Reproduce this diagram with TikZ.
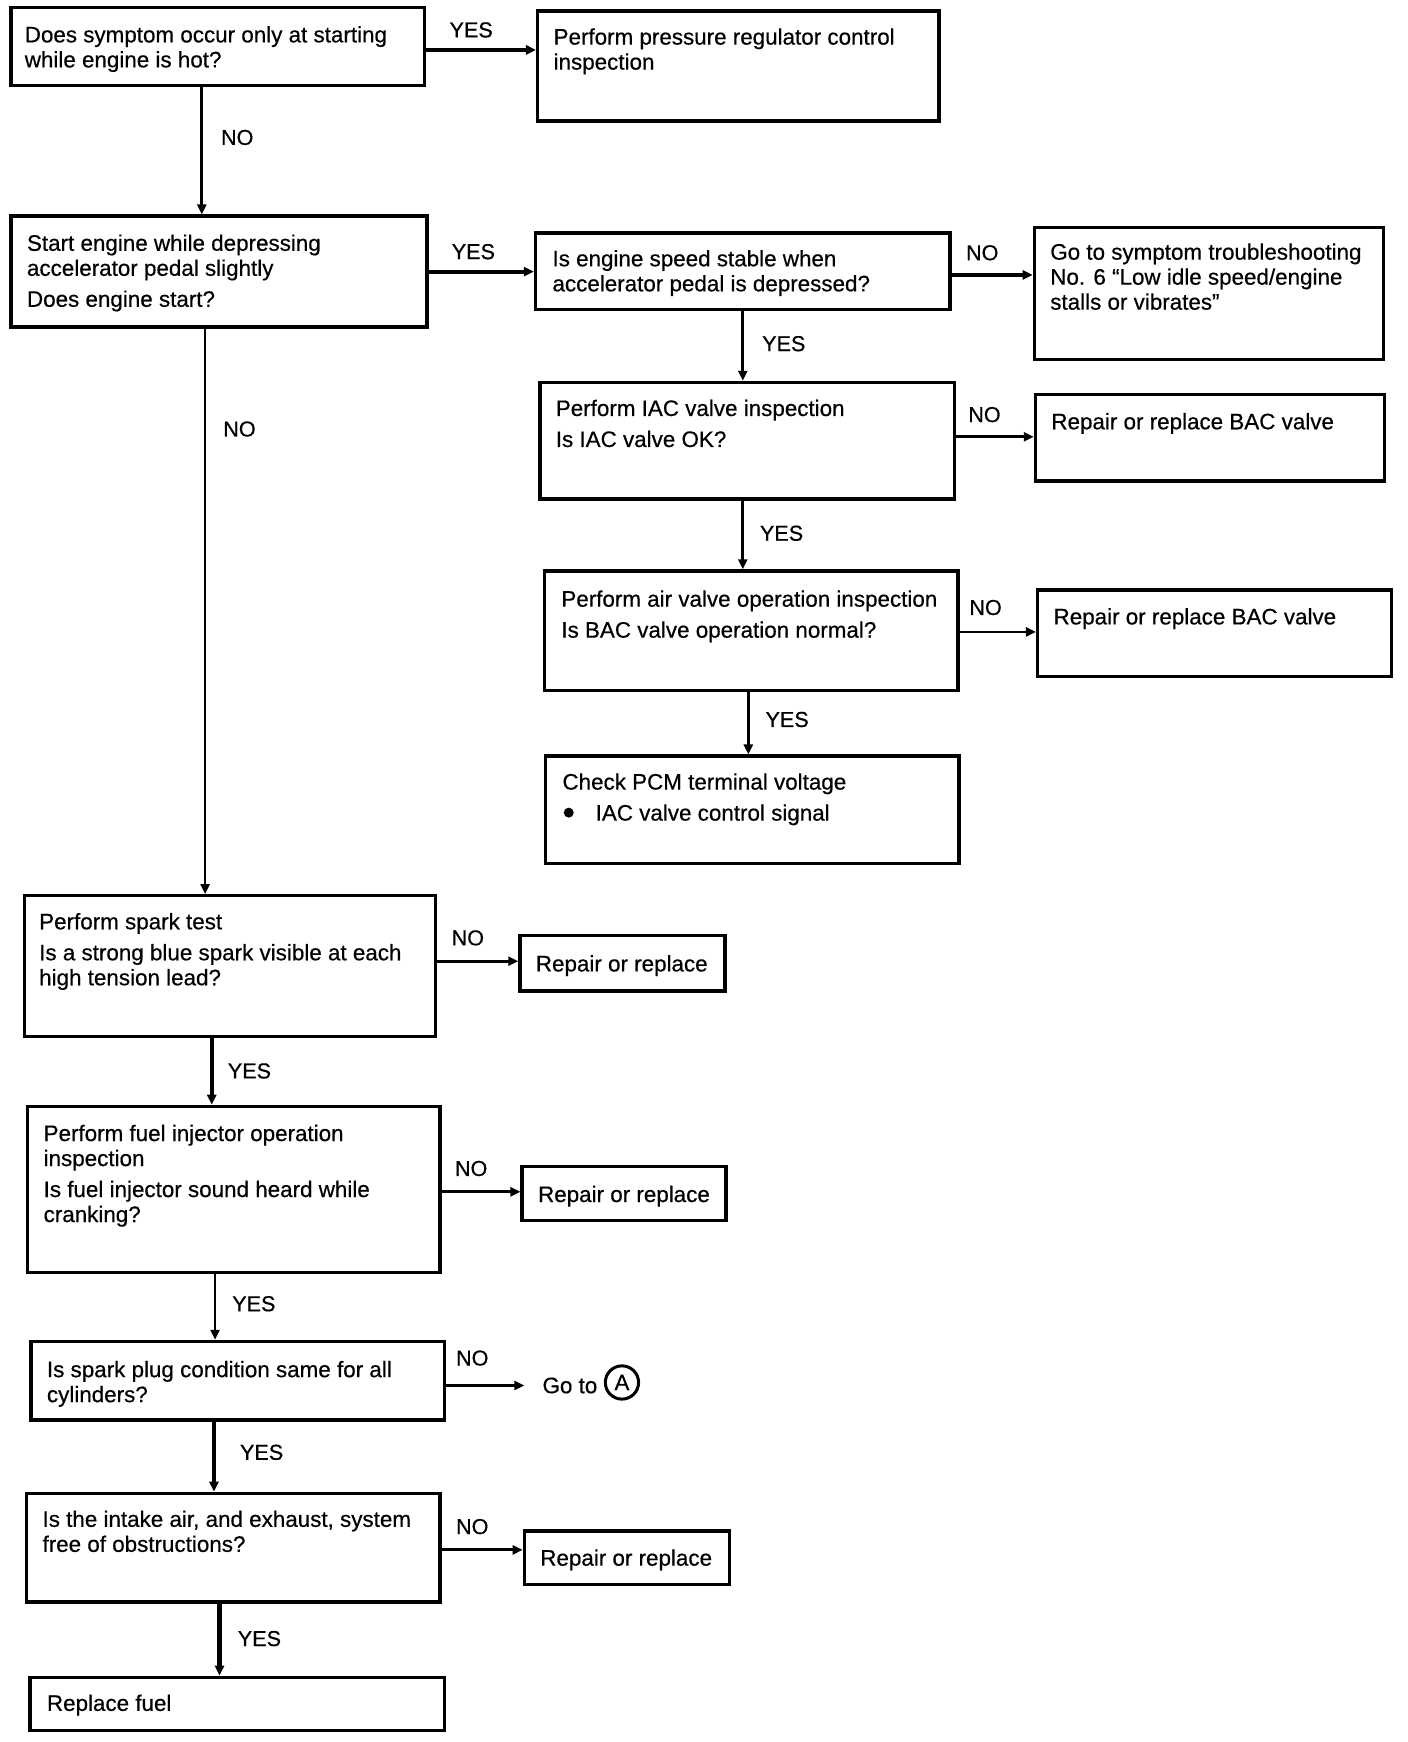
\documentclass[tikz,border=0pt]{standalone}
\usepackage{fontspec}
\setmainfont{Liberation Sans}[FakeBold=0.5]
\usetikzlibrary{arrows.meta,fit,calc}
\begin{document}
\begin{tikzpicture}[x=0.55435pt,y=-0.55435pt,
  box/.style={draw,line width=1.7pt,inner sep=0pt},
  txt/.style={anchor=north west,inner sep=0pt,align=left,yshift=-1.5pt,font=\fontsize{11.2}{12.5}\selectfont},
  lbl/.style={inner sep=0pt,font=\fontsize{10.8}{12}\selectfont},
  arr/.style={line width=1.4pt,-{Triangle[length=5pt,width=4.5pt]}},
  thickarr/.style={arr,line width=2.1pt}]
\useasboundingbox (0,0) rectangle (1270,1571.3);
% boxes
\node[box,fit={(10,7) (383,77)}] (b1) {};
\node[box,fit={(485,10) (847,109)}] (b2) {};
\node[box,fit={(10,195) (385,295)}] (b3) {};
\node[box,fit={(483,210) (857,279)}] (b4) {};
\node[box,fit={(933,205) (1248,324)}] (b5) {};
\node[box,fit={(487,345) (861,450)}] (b6) {};
\node[box,fit={(934,356) (1249,434)}] (b7) {};
\node[box,fit={(491,515) (864,623)}] (b8) {};
\node[box,fit={(936,532) (1255,610)}] (b9) {};
\node[box,fit={(492,682) (865,779)}] (b10) {};
\node[box,fit={(22,808) (393,935)}] (b11) {};
\node[box,fit={(469,844) (654,894)}] (b12) {};
\node[box,fit={(25,998) (397,1148)}] (b13) {};
\node[box,fit={(471,1052) (655,1101)}] (b14) {};
\node[box,fit={(28,1210) (401,1281)}] (b15) {};
\node[box,fit={(24,1347) (397,1445)}] (b16) {};
\node[box,fit={(473,1381) (658,1429)}] (b17) {};
\node[box,fit={(27,1513) (401,1561)}] (b18) {};
% texts
\node[txt] (t1) at (22,20.5) {Does symptom occur only at starting\\while engine is hot?};
\node[txt] (t2) at (499,22.5) {Perform pressure regulator control\\inspection};
\node[txt] (t3) at (24,208.5) {Start engine while depressing\\accelerator pedal slightly\\[3pt]Does engine start?};
\node[txt] (t4) at (498,222.5) {Is engine speed stable when\\accelerator pedal is depressed?};
\node[txt] (t5) at (947,216.5) {Go to symptom troubleshooting\\No. 6 ``Low idle speed/engine\\stalls or vibrates''};
\node[txt] (t6) at (501,357.5) {Perform IAC valve inspection\\[3pt]Is IAC valve OK?};
\node[txt] (t7) at (948,369.5) {Repair or replace BAC valve};
\node[txt] (t8) at (506,529.5) {Perform air valve operation inspection\\[3pt]Is BAC valve operation normal?};
\node[txt] (t9) at (950,545.5) {Repair or replace BAC valve};
\node[txt] (t10) at (507,694.5) {Check PCM terminal voltage\\[3pt]\hspace{16.6pt}IAC valve control signal};
\fill (513,733) circle (4.5);
\node[txt] (t11) at (35,820.5) {Perform spark test\\[3pt]Is a strong blue spark visible at each\\high tension lead?};
\node[txt] (t12) at (483,858.5) {Repair or replace};
\node[txt] (t13) at (39,1011.5) {Perform fuel injector operation\\inspection\\[3pt]Is fuel injector sound heard while\\cranking?};
\node[txt] (t14) at (485,1066.5) {Repair or replace};
\node[txt] (t15) at (42,1224.5) {Is spark plug condition same for all\\cylinders?};
\node[txt] (t16) at (38,1359.5) {Is the intake air, and exhaust, system\\free of obstructions?};
\node[txt] (t17) at (487,1394.5) {Repair or replace};
\node[txt] (t18) at (42,1525.5) {Replace fuel};
\node[txt,anchor=west,yshift=0pt] (goto) at (489,1247) {Go to};
\node[draw,circle,line width=1.5pt,minimum size=30pt*0.55435,inner sep=0pt,font=\fontsize{11.2}{12.5}\selectfont] (A) at (561,1247) {A};
% connectors
\draw[thickarr] (b1.east |- 0,45) -- (b2.west |- 0,45);
\node[lbl] at (425,27) {YES};
\draw[arr] (b1.south -| 182,0) -- (b3.north -| 182,0);
\node[lbl] at (214,124) {NO};
\draw[thickarr] (b3.east |- 0,245) -- (b4.west |- 0,245);
\node[lbl] at (427,227) {YES};
\draw[thickarr] (b4.east |- 0,248) -- (b5.west |- 0,248);
\node[lbl] at (886,228) {NO};
\draw[arr] (b4.south -| 670,0) -- (b6.north -| 670,0);
\node[lbl] at (707,310) {YES};
\draw[arr] (b6.east |- 0,394) -- (b7.west |- 0,394);
\node[lbl] at (888,374) {NO};
\draw[arr] (b6.south -| 670,0) -- (b8.north -| 670,0);
\node[lbl] at (705,481) {YES};
\draw[arr] (b8.east |- 0,570) -- (b9.west |- 0,570);
\node[lbl] at (889,548) {NO};
\draw[arr] (b8.south -| 675,0) -- (b10.north -| 675,0);
\node[lbl] at (710,649) {YES};
\draw[arr] (b3.south -| 185,0) -- (b11.north -| 185,0);
\node[lbl] at (216,387) {NO};
\draw[arr] (b11.east |- 0,867) -- (b12.west |- 0,867);
\node[lbl] at (422,846) {NO};
\draw[thickarr] (b11.south -| 191,0) -- (b13.north -| 191,0);
\node[lbl] at (225,966) {YES};
\draw[arr] (b13.east |- 0,1075) -- (b14.west |- 0,1075);
\node[lbl] at (425,1054) {NO};
\draw[arr] (b13.south -| 194,0) -- (b15.north -| 194,0);
\node[lbl] at (229,1176) {YES};
\draw[arr] (b15.east |- goto.west) -- ($(goto.west)+(-16,0)$);
\node[lbl] at (426,1225) {NO};
\draw[thickarr] (b15.south -| 193,0) -- (b16.north -| 193,0);
\node[lbl] at (236,1310) {YES};
\draw[arr] (b16.east |- 0,1398) -- (b17.west |- 0,1398);
\node[lbl] at (426,1377) {NO};
\draw[thickarr] (b16.south -| 198,0) -- (b18.north -| 198,0);
\node[lbl] at (234,1478) {YES};
\end{tikzpicture}
\end{document}
